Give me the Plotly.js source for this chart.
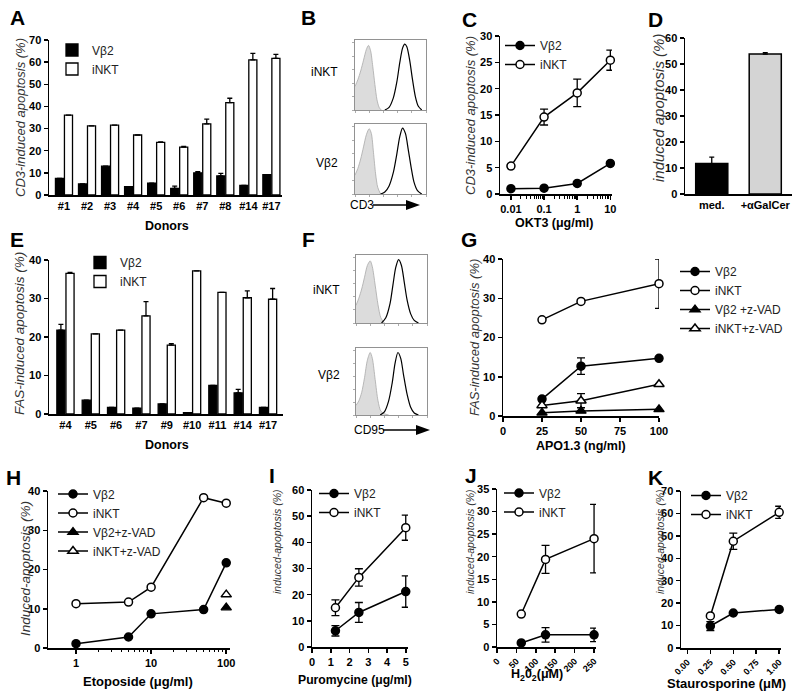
<!DOCTYPE html>
<html>
<head>
<meta charset="utf-8">
<script src="https://cdn.plot.ly/plotly-3.0.1.min.js"></script>
<style>body{margin:0;background:#fff}</style>
</head>
<body>
<div id="fig" style="width:800px;height:698px"></div>
<script>
var FIG = document.getElementById('fig');
var FONT = 'Liberation Sans, Arial, sans-serif';

// A: CD3-induced apoptosis per donor
var donorsA = ['#1', '#2', '#3', '#4', '#5', '#6', '#7', '#8', '#14', '#17'];
var aVb2 = [7.5, 5, 13, 3.8, 5.4, 3, 10, 8.6, 4.3, 9.2];
var aVb2Err = [0, 0, 0, 0, 0, 1, 0.5, 1.2, 0, 0];
var aNkt = [36.1, 31.2, 31.6, 27.1, 23.8, 21.6, 32.1, 41.7, 61, 61.7];
var aNktErr = [0, 0, 0, 0, 0.2, 0.3, 2.2, 2, 3, 1.8];

// B: CD3 staining histograms (decades, % of max)
var bNktIsoX = [0, 0.2, 0.4, 0.6, 0.8, 0.95, 1.1, 1.25, 1.4, 1.55, 1.7, 1.85];
var bNktIsoY = [35, 45, 58, 74, 90, 96, 88, 65, 38, 15, 4, 0];
var bNktX = [2.1, 2.4, 2.7, 2.95, 3.15, 3.35, 3.5, 3.65, 3.85, 4.05, 4.25, 4.45, 4.7];
var bNktY = [0, 4, 18, 42, 70, 92, 98, 94, 74, 45, 20, 6, 0];
var bVbIsoX = [0, 0.2, 0.4, 0.6, 0.8, 1.0, 1.15, 1.3, 1.45, 1.6, 1.8];
var bVbIsoY = [28, 38, 52, 70, 88, 97, 90, 62, 30, 10, 0];
var bVbX = [1.8, 2.1, 2.4, 2.7, 2.95, 3.15, 3.35, 3.55, 3.75, 3.95, 4.15, 4.4, 4.7];
var bVbY = [0, 3, 12, 32, 60, 85, 98, 90, 66, 40, 18, 5, 0];

// C: OKT3 titration
var cDose = [0.01, 0.1, 1, 10];
var cVb2 = [1.0, 1.1, 2.0, 5.8];
var cNkt = [5.3, 14.6, 19.2, 25.4];
var cNktErr = [0, 1.5, 2.6, 1.9];

// D: alphaGalCer
var dCats = ['med.', '+αGalCer'];
var dVals = [11.7, 53.8];
var dErr = [2.5, 0.6];

// E: FAS-induced apoptosis per donor
var donorsE = ['#4', '#5', '#6', '#7', '#9', '#10', '#11', '#14', '#17'];
var eVb2 = [21.8, 3.6, 1.7, 1.5, 2.6, 0.35, 7.4, 5.5, 1.7];
var eVb2Err = [1.5, 0, 0, 0, 0, 0, 0, 0.9, 0];
var eNkt = [36.5, 20.8, 21.8, 25.5, 17.9, 37.2, 31.6, 30.2, 29.8];
var eNktErr = [0.3, 0, 0, 3.7, 0.4, 0, 0, 1.8, 2.8];

// F: CD95 staining histograms
var fNktIsoX = [0, 0.2, 0.4, 0.6, 0.8, 1.0, 1.15, 1.35, 1.55, 1.75, 2.0];
var fNktIsoY = [27, 38, 52, 70, 88, 95, 86, 58, 28, 8, 0];
var fNktX = [1.8, 2.1, 2.4, 2.6, 2.8, 3.0, 3.2, 3.4, 3.6, 3.85, 4.1, 4.4];
var fNktY = [0, 8, 30, 58, 85, 97, 88, 62, 35, 14, 4, 0];
var fVbIsoX = [0, 0.2, 0.4, 0.6, 0.8, 1.0, 1.15, 1.35, 1.55, 1.75, 2.0, 2.3];
var fVbIsoY = [15, 22, 35, 58, 85, 97, 88, 55, 22, 6, 2, 0];
var fVbX = [1.7, 2.0, 2.3, 2.55, 2.75, 2.95, 3.15, 3.35, 3.6, 3.85, 4.1, 4.4];
var fVbY = [0, 5, 22, 50, 80, 97, 88, 62, 32, 12, 3, 0];

// G: APO1.3 titration
var gDose = [25, 50, 100];
var gVb2 = [4.3, 12.7, 14.7];
var gVb2Err = [0, 2.1, 0];
var gNkt = [24.5, 29.2, 33.7];
var gNktErr = [0, 0, 6.3];
var gVb2Z = [0.8, 1.3, 1.7];
var gNktZ = [2.7, 3.9, 8.1];
var gNktZErr = [0, 1.8, 0];

// H: etoposide
var hDose = [1, 5, 10, 50, 100];
var hVb2 = [1.1, 2.8, 8.7, 9.8, 21.7];
var hNkt = [11.3, 11.7, 15.5, 38.3, 36.9];
var hZDose = [100];
var hVb2Z = [10.3];
var hNktZ = [13.6];

// I: puromycine
var iDose = [1.25, 2.5, 5];
var iVb2 = [6.2, 13.2, 21.2];
var iVb2Err = [2, 3.8, 6];
var iNkt = [15, 26.6, 45.6];
var iNktErr = [3, 3.3, 4.8];

// J: H2O2
var jDose = [62.5, 125, 250];
var jVb2 = [0.9, 2.7, 2.7];
var jVb2Err = [0, 1.6, 1.5];
var jNkt = [7.3, 19.4, 24];
var jNktErr = [0, 3.1, 7.6];

// K: staurosporine
var kDose = [0.25, 0.5, 1];
var kVb2 = [9.8, 15.6, 17.2];
var kVb2Err = [2, 0, 0];
var kNkt = [14.3, 47.6, 60.5];
var kNktErr = [0, 3.6, 2.7];

var layout = {
    width: 800, height: 698,
    margin: {l: 0, r: 0, t: 0, b: 0},
    paper_bgcolor: 'white', plot_bgcolor: 'white',
    font: {family: FONT, size: 12, color: 'black'},
    barmode: 'overlay',
    showlegend: true,
    annotations: [],
    shapes: []
};

function sfx(n) { return n === 1 ? '' : String(n); }
function px(x) { return x / 800; }
function py(y) { return 1 - y / 698; }

function base() {
    return {
        showline: true, linecolor: 'black', linewidth: 1.5,
        ticks: 'outside', ticklen: 4, tickwidth: 1.5, tickcolor: 'black',
        showgrid: false, zeroline: false, fixedrange: true,
        tickfont: {family: FONT, size: 11, weight: 'bold', color: 'black'}
    };
}

// pixel box [x0, x1, ytop, ybottom] -> axis domains
function panel(n, box, xa, ya) {
    layout['xaxis' + sfx(n)] = Object.assign(base(), {domain: [px(box[0]), px(box[1])], anchor: 'y' + sfx(n)}, xa);
    layout['yaxis' + sfx(n)] = Object.assign(base(), {domain: [py(box[3]), py(box[2])], anchor: 'x' + sfx(n)}, ya);
}

function histAxes(n, box) {
    var h = {linecolor: '#777', linewidth: 0.8, mirror: true, ticklen: 2, tickwidth: 0.6, tickcolor: '#777', showticklabels: false};
    panel(n, box, Object.assign({}, h, {range: [0, 5], dtick: 1}), Object.assign({}, h, {range: [0, 104], dtick: 20}));
}

var ROT = {family: FONT, size: 9, weight: 'bold', color: 'black'};

panel(1, [49, 282, 40, 195], {type: 'category', range: [-0.65, 9.46], ticklen: 0}, {range: [0, 70], dtick: 10});
histAxes(2, [355, 426, 40, 110]);
histAxes(3, [355, 426, 124, 194]);
panel(4, [500, 612, 36, 194],
    {type: 'log', range: [-2.33, 1.05], tickvals: [0.01, 0.1, 1, 10], ticktext: ['0.01', '0.1', '1', '10'],
     minor: {tickmode: 'array', tickvals: [0.02, 0.03, 0.04, 0.05, 0.06, 0.07, 0.08, 0.09, 0.2, 0.3, 0.4, 0.5, 0.6, 0.7, 0.8, 0.9, 2, 3, 4, 5, 6, 7, 8, 9],
             ticks: 'outside', ticklen: 3, tickwidth: 1, tickcolor: 'black'}},
    {range: [0, 30], dtick: 5});
panel(5, [685, 792, 38, 194], {type: 'category', range: [-0.5, 1.5], ticklen: 0}, {range: [0, 60], dtick: 10});
panel(6, [49, 283, 260, 414], {type: 'category', range: [-0.65, 8.59], ticklen: 0}, {range: [0, 40], dtick: 10});
histAxes(7, [356, 427, 255, 323]);
histAxes(8, [356, 427, 348, 415]);
panel(9, [503, 659, 259, 416], {range: [0, 100], tickvals: [0, 25, 50, 75, 100]}, {range: [0, 40], dtick: 10});
panel(10, [48, 230, 491, 648],
    {type: 'log', range: [-0.373, 2.05], tickvals: [1, 10, 100], ticktext: ['1', '10', '100'],
     minor: {tickmode: 'array', tickvals: [2, 3, 4, 5, 6, 7, 8, 9, 20, 30, 40, 50, 60, 70, 80, 90],
             ticks: 'outside', ticklen: 2, tickwidth: 1, tickcolor: 'black'}},
    {range: [0, 40], dtick: 10});
panel(11, [312, 408, 490, 647], {range: [0, 5.12], dtick: 1}, {range: [0, 60], dtick: 10});
panel(12, [497, 596, 489, 647],
    {range: [0, 255], tickvals: [0, 50, 100, 150, 200, 250], tickangle: -45, tickfont: ROT},
    {range: [0, 35], dtick: 5});
panel(13, [681, 781, 491, 648],
    {range: [-0.07, 1.02], tickvals: [0, 0.25, 0.5, 0.75, 1], ticktext: ['0.00', '0.25', '0.50', '0.75', '1.00'], tickangle: -45, tickfont: ROT},
    {range: [0, 70], dtick: 10});

// legends
function leg(x, top) {
    return {x: px(x), y: py(top), xanchor: 'left', yanchor: 'top', bgcolor: 'rgba(0,0,0,0)',
            tracegroupgap: 0, font: {family: FONT, size: 12, color: '#222'}};
}
layout.legend = leg(52, 35.5);
layout.legend2 = leg(500, 31);
layout.legend3 = leg(80, 248);
layout.legend4 = leg(675, 257);
layout.legend5 = leg(53, 479.5);
layout.legend6 = leg(314, 479);
layout.legend7 = leg(499, 478.5);
layout.legend8 = leg(686, 481);

function upErr(arr) {
    return {type: 'data', symmetric: false, array: arr, arrayminus: arr.map(function () { return 0; }),
            color: 'black', thickness: 1.3, width: 2.5};
}
function err(arr) {
    return {type: 'data', array: arr, color: 'black', thickness: 1.3, width: 4};
}

function bar(x, y, e, name, n, off, w, fill, legend) {
    return {type: 'bar', x: x, y: y, name: name, xaxis: 'x' + sfx(n), yaxis: 'y' + sfx(n),
            offset: off, width: w, legend: legend,
            marker: {color: fill, line: {color: 'black', width: 1.3}}, error_y: upErr(e)};
}

var SYM = {
    dot: {symbol: 'circle', size: 8, color: 'black', line: {color: 'black', width: 1.5}},
    ring: {symbol: 'circle', size: 8, color: 'white', line: {color: 'black', width: 1.5}},
    tri: {symbol: 'triangle-up', size: 9, color: 'black', line: {color: 'black', width: 1.3}},
    otri: {symbol: 'triangle-up', size: 9, color: 'white', line: {color: 'black', width: 1.5}}
};

function curve(x, y, e, name, n, sym, legend) {
    var t = {type: 'scatter', mode: 'lines+markers', x: x, y: y, name: name,
             xaxis: 'x' + sfx(n), yaxis: 'y' + sfx(n), legend: legend, cliponaxis: false,
             line: {color: 'black', width: 1.5}, marker: SYM[sym]};
    if (e) t.error_y = err(e);
    return t;
}

function hist(x, y, n, iso) {
    var t = {type: 'scatter', mode: 'lines', x: x, y: y, xaxis: 'x' + sfx(n), yaxis: 'y' + sfx(n),
             showlegend: false, hoverinfo: 'skip', line: {shape: 'spline', smoothing: 0.8}};
    if (iso) {
        t.fill = 'tozeroy';
        t.fillcolor = '#dcdcdc';
        t.line.color = '#aaaaaa';
        t.line.width = 0.8;
    } else {
        t.line.color = 'black';
        t.line.width = 1.2;
    }
    return t;
}

var data = [
    bar(donorsA, aVb2, aVb2Err, 'Vβ2', 1, -0.37, 0.35, 'black', 'legend'),
    bar(donorsA, aNkt, aNktErr, 'iNKT', 1, 0.02, 0.35, 'white', 'legend'),
    hist(bNktIsoX, bNktIsoY, 2, true), hist(bNktX, bNktY, 2, false),
    hist(bVbIsoX, bVbIsoY, 3, true), hist(bVbX, bVbY, 3, false),
    curve(cDose, cVb2, null, 'Vβ2', 4, 'dot', 'legend2'),
    curve(cDose, cNkt, cNktErr, 'iNKT', 4, 'ring', 'legend2'),
    {type: 'bar', x: dCats, y: dVals, xaxis: 'x5', yaxis: 'y5', width: 0.6, showlegend: false,
     marker: {color: ['black', '#d4d4d4'], line: {color: 'black', width: 1.5}}, error_y: upErr(dErr)},
    bar(donorsE, eVb2, eVb2Err, 'Vβ2', 6, -0.34, 0.32, 'black', 'legend3'),
    bar(donorsE, eNkt, eNktErr, 'iNKT', 6, 0.02, 0.32, 'white', 'legend3'),
    hist(fNktIsoX, fNktIsoY, 7, true), hist(fNktX, fNktY, 7, false),
    hist(fVbIsoX, fVbIsoY, 8, true), hist(fVbX, fVbY, 8, false),
    curve(gDose, gVb2, gVb2Err, 'Vβ2', 9, 'dot', 'legend4'),
    curve(gDose, gNkt, gNktErr, 'iNKT', 9, 'ring', 'legend4'),
    curve(gDose, gVb2Z, null, 'Vβ2 +z-VAD', 9, 'tri', 'legend4'),
    curve(gDose, gNktZ, gNktZErr, 'iNKT+z-VAD', 9, 'otri', 'legend4'),
    curve(hDose, hVb2, null, 'Vβ2', 10, 'dot', 'legend5'),
    curve(hDose, hNkt, null, 'iNKT', 10, 'ring', 'legend5'),
    curve(hZDose, hVb2Z, null, 'Vβ2+z-VAD', 10, 'tri', 'legend5'),
    curve(hZDose, hNktZ, null, 'iNKT+z-VAD', 10, 'otri', 'legend5'),
    curve(iDose, iVb2, iVb2Err, 'Vβ2', 11, 'dot', 'legend6'),
    curve(iDose, iNkt, iNktErr, 'iNKT', 11, 'ring', 'legend6'),
    curve(jDose, jVb2, jVb2Err, 'Vβ2', 12, 'dot', 'legend7'),
    curve(jDose, jNkt, jNktErr, 'iNKT', 12, 'ring', 'legend7'),
    curve(kDose, kVb2, kVb2Err, 'Vβ2', 13, 'dot', 'legend8'),
    curve(kDose, kNkt, kNktErr, 'iNKT', 13, 'ring', 'legend8')
];

function note(text, x, y, opts) {
    layout.annotations.push(Object.assign({
        text: text, x: px(x), y: py(y), xref: 'paper', yref: 'paper',
        showarrow: false, xanchor: 'center', yanchor: 'middle',
        font: {family: FONT, size: 12, color: 'black'}
    }, opts || {}));
}

// axis titles, placed where the figure has them
function ytitle(text, x, y, size) {
    note(text, x, y, {textangle: -90, font: {family: FONT, size: size, style: 'italic', color: '#333'}});
}
function xtitle(text, x, y, size) {
    note(text, x, y, {font: {family: FONT, size: size, weight: 'bold', color: 'black'}});
}
ytitle('CD3-induced apoptosis (%)', 20, 118, 13);
ytitle('CD3-induced apoptosis (%)', 470, 116, 13);
ytitle('induced apoptosis (%)', 658, 108, 15);
ytitle('FAS-induced apoptosis (%)', 20, 334, 13.5);
ytitle('FAS-induced apoptosis (%)', 475, 338, 13);
ytitle('Induced-apoptosis (%)', 25, 569, 13.5);
ytitle('induced-apoptosis (%)', 277, 542, 10.5);
ytitle('induced-apoptosis (%)', 470, 542, 10.5);
ytitle('induced-apoptosis (%)', 660, 542, 10.5);
xtitle('Donors', 167, 226, 12.5);
xtitle('OKT3 (μg/ml)', 554, 223, 12.5);
xtitle('Donors', 167, 445, 12.5);
xtitle('APO1.3 (ng/ml)', 581, 446, 12.5);
xtitle('Etoposide (μg/ml)', 138, 681, 13);
xtitle('Puromycine (μg/ml)', 355, 680, 12.2);
xtitle('H<sub>2</sub>0<sub>2</sub>(μM)', 537, 675, 12.5);
xtitle('Staurosporine (μM)', 726, 683, 13);

// panel letters and flow labels
var letters = [['A', 17, 18], ['B', 308, 18], ['C', 469, 19], ['D', 655, 19], ['E', 17, 240], ['F', 308, 240],
               ['G', 469, 240], ['H', 13, 477], ['I', 272, 475], ['J', 471, 475], ['K', 655, 477]];
letters.forEach(function (l) {
    note(l[0], l[1], l[2], {font: {family: FONT, size: 21, weight: 'bold', color: 'black'}});
});
note('iNKT', 340, 72, {xanchor: 'right'});
note('Vβ2', 340, 163, {xanchor: 'right'});
note('CD3', 348, 205, {xanchor: 'left'});
note('iNKT', 342, 290, {xanchor: 'right'});
note('Vβ2', 342, 375, {xanchor: 'right'});
note('CD95', 352, 430, {xanchor: 'left'});

// marker arrows under the flow histograms
function arrow(x0, x1, y) {
    layout.shapes.push({type: 'line', xref: 'paper', yref: 'paper', x0: px(x0), x1: px(x1 - 12), y0: py(y), y1: py(y),
                        line: {color: 'black', width: 1.3}});
    layout.shapes.push({type: 'path', xref: 'paper', yref: 'paper', fillcolor: 'black', line: {width: 0},
                        path: 'M' + px(x1 - 14) + ',' + py(y - 5) + ' L' + px(x1) + ',' + py(y) + ' L' + px(x1 - 14) + ',' + py(y + 5) + ' Z'});
}
arrow(373, 420, 205);
arrow(383, 430, 430);

Plotly.newPlot(FIG, data, layout, {staticPlot: true});
</script>
</body>
</html>
